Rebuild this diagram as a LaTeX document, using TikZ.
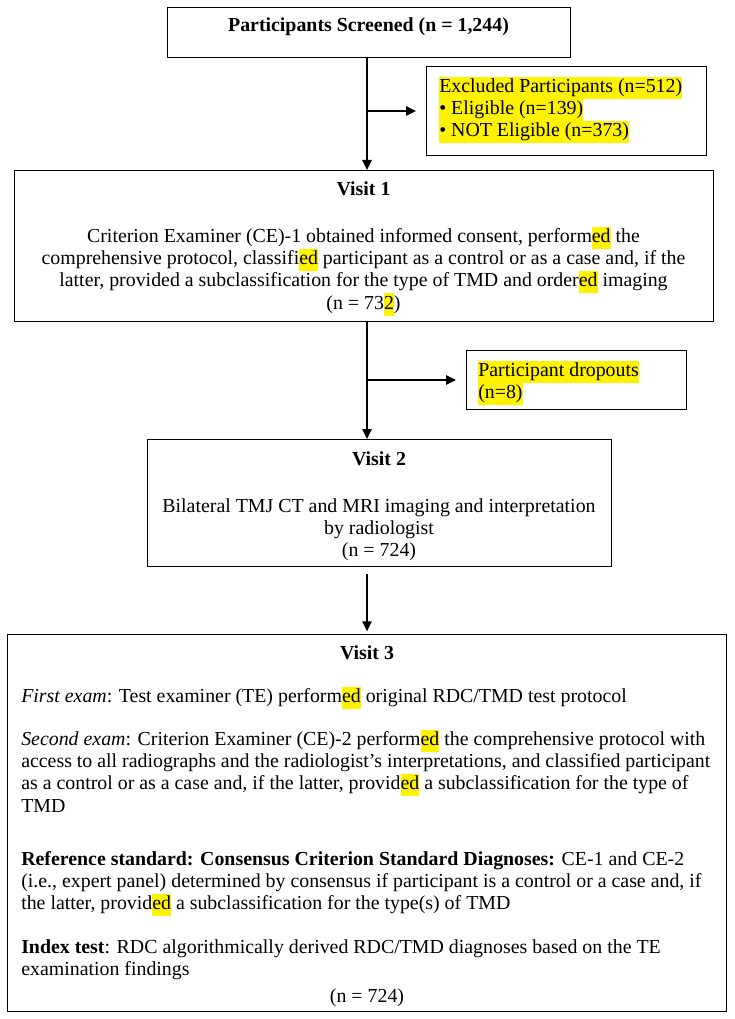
\documentclass[tikz,border=0pt]{standalone}
\usepackage{fontspec}
\setmainfont{Liberation Serif}
\usetikzlibrary{arrows.meta}
\newcommand\hl[1]{{\setlength{\fboxsep}{0pt}\colorbox{yellow}{\strut #1}}}
\newcommand\bodyfont{\fontsize{14.9}{16.7}\selectfont}
\begin{document}
\begin{tikzpicture}[x=0.75pt,y=-0.75pt,
  box/.style={draw, line width=1.1pt, inner sep=0pt, anchor=north west},
  txt/.style={inner sep=0pt, font=\bodyfont, align=center},
  ttl/.style={inner sep=0pt, font=\bodyfont\bfseries, anchor=base},
  ltxt/.style={inner sep=0pt, font=\bodyfont, align=left, anchor=north west},
  arr/.style={line width=1.1pt, -{Triangle[length=7.5pt,width=7pt]}}]
\useasboundingbox (0,0) rectangle (734,1019);
% boxes
\node[box, minimum width=403*0.75pt, minimum height=50*0.75pt] (scr) at (167,7) {};
\node[box, minimum width=280*0.75pt, minimum height=89*0.75pt] (ex) at (426,66) {};
\node[box, minimum width=699*0.75pt, minimum height=151*0.75pt] (v1) at (14,170) {};
\node[box, minimum width=220*0.75pt, minimum height=59*0.75pt] (dr) at (466,350) {};
\node[box, minimum width=464*0.75pt, minimum height=127*0.75pt] (v2) at (147,439) {};
\node[box, minimum width=719*0.75pt, minimum height=377*0.75pt] (v3) at (7,634) {};
% texts
\node[ttl] (scrT) at (368.5,32) {Participants Screened (n = 1,244)};
\node[ltxt] (exT) at (439,76.4) {\hl{Excluded Participants (n=512)}\\\hl{\textbullet{} Eligible (n=139)}\\\hl{\textbullet{} NOT Eligible (n=373)}};
\node[ttl] (v1T) at (363.5,196) {Visit 1};
\node[txt, anchor=north] (v1B) at (363.5,226.4) {\strut Criterion Examiner (CE)-1 obtained informed consent, perform\hl{ed} the\\
\strut comprehensive protocol, classifi\hl{ed} participant as a control or as a case and, if the\\
\strut latter, provided a subclassification for the type of TMD and order\hl{ed} imaging\\
\strut (n = 73\hl{2})};
\node[ltxt] (drT) at (478,360.4) {\hl{Participant dropouts}\\\hl{(n=8)}};
\node[ttl] (v2T) at (379,465) {Visit 2};
\node[txt, anchor=north] (v2B) at (379,496.4) {\strut Bilateral TMJ CT and MRI imaging and interpretation\\
\strut by radiologist\\
\strut (n = 724)};
\node[ttl] (v3T) at (367,659) {Visit 3};
\node[ltxt] (v3a) at (21,686.4) {\strut\textit{First exam}: Test examiner (TE) perform\hl{ed} original RDC/TMD test protocol};
\node[ltxt] (v3b) at (21,729.4) {\strut\textit{Second exam}: Criterion Examiner (CE)-2 perform\hl{ed} the comprehensive protocol with\\
\strut access to all radiographs and the radiologist’s interpretations, and classified participant\\
\strut as a control or as a case and, if the latter, provid\hl{ed} a subclassification for the type of\\
\strut TMD};
\node[ltxt] (v3c) at (21,849.4) {\strut\textbf{Reference standard: Consensus Criterion Standard Diagnoses:} CE-1 and CE-2\\
\strut (i.e., expert panel) determined by consensus if participant is a control or a case and, if\\
\strut the latter, provid\hl{ed} a subclassification for the type(s) of TMD};
\node[ltxt] (v3d) at (21,937.4) {\strut\textbf{Index test}: RDC algorithmically derived RDC/TMD diagnoses based on the TE\\
\strut examination findings};
\node[txt, anchor=base] (v3n) at (367,1002) {(n = 724)};
% connectors
\coordinate (j1) at (367,111);
\coordinate (j2) at (367,380);
\draw[arr] (j1 |- scr.south) -- (j1 |- v1.north);
\draw[arr, shorten >=7.5pt] (j1) -- (j1 -| ex.west);
\draw[arr] (j2 |- v1.south) -- (j2 |- v2.north);
\draw[arr, shorten >=7.5pt] (j2) -- (j2 -| dr.west);
\draw[arr, shorten <=5pt, shorten >=2pt] (j2 |- v2.south) -- (j2 |- v3.north);
\end{tikzpicture}
\end{document}
